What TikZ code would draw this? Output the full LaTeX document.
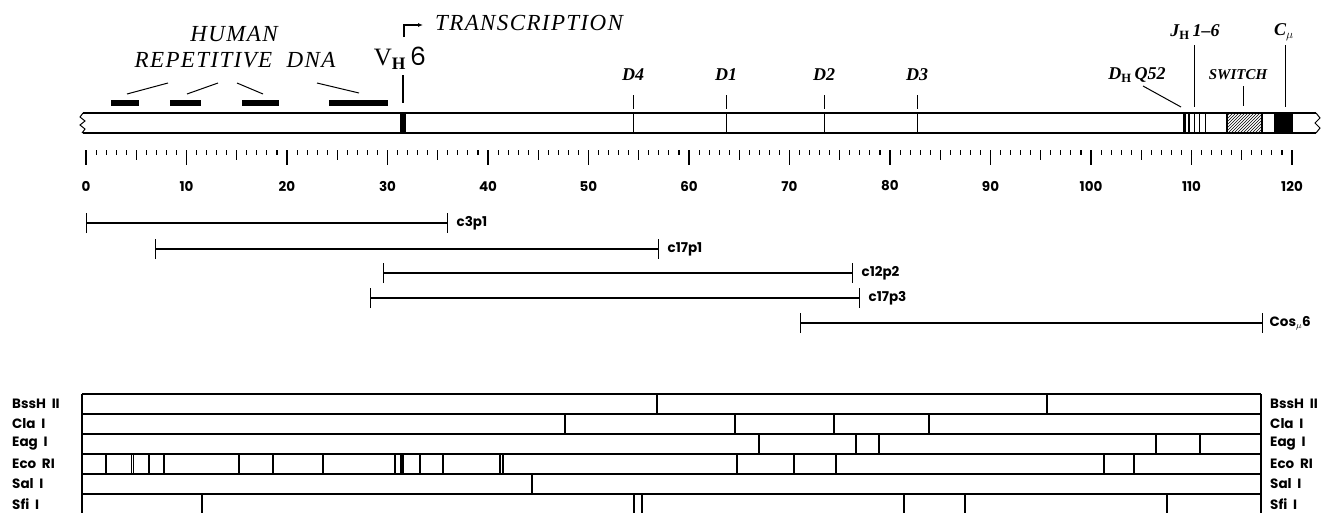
\documentclass[tikz,border=0pt]{standalone}
\usepackage{fontspec}
\setmainfont{Liberation Serif}
\newfontfamily\labelfont[LetterSpace=6]{Liberation Serif}
\newfontfamily\mapsans{Poppins}
\usetikzlibrary{positioning,patterns,arrows.meta}

\begin{document}
\begin{tikzpicture}[
x=1pt, y=-1pt,
every node/.style={inner sep=0pt},
bigitalic/.style={font=\labelfont\itshape\fontsize{23}{23}\selectfont},
dlabel/.style={font=\bfseries\itshape\fontsize{18}{18}\selectfont},
smalllabel/.style={font=\bfseries\itshape\fontsize{15}{15}\selectfont},
sanslabel/.style={font=\mapsans\bfseries\fontsize{13.5}{13.5}\selectfont},
clone/.style={line width=1.2pt, {Bar[width=20pt]}-{Bar[width=20pt]}},
rptbar/.style={line width=6pt},
mapline/.style={line width=1.2pt},
>=latex
]
\useasboundingbox (0,0) rectangle (1330,512);

% chromosome bar
\draw[mapline] (83,113) -- (1316,113);
\draw[mapline] (83,133) -- (1316,133);
\draw[line width=1pt] (83,113) -- (80,117) -- (85,121) -- (80,125) -- (85,129) -- (82,133);
\draw[line width=1pt] (1316,113) -- (1320,118) -- (1315,123) -- (1320,128) -- (1316,133);

\fill (400,113) rectangle (406,133);
\fill (1183,113) rectangle (1186,133);
\fill (1187.5,113) rectangle (1190,133);
\foreach \x in {1194,1199,1205} \draw[line width=1pt] (\x,113) -- (\x,133);
\draw[mapline, pattern=north east lines] (1227,113) rectangle (1262,133);
\fill (1274,113) rectangle (1293,133);

% repetitive DNA
\node[bigitalic] (human) at (234,34) {HUMAN};
\node[bigitalic] (repdna) at (235,60) {REPETITIVE\ \ DNA};
\foreach \a/\b in {111/139,170/201,242/279,329/388}
  \draw[rptbar] (\a,103) -- (\b,103);
\draw[line width=1pt] (127,94) -- (168,83);
\draw[line width=1pt] (187,94) -- (218,83);
\draw[line width=1pt] (237,83) -- (263,94);
\draw[line width=1pt] (317,83) -- (359,93);

% VH6 and transcription start
\node (vh) at (400,58) {\fontsize{25}{25}\selectfont V$_{\mathbf{H}}$\,{\mapsans 6}};
\coordinate (vhtop) at (403,75);
\draw[line width=1.5pt] (vhtop) -- ++(0,28);
\node[bigitalic, anchor=west] (trans) at (435,23) {TRANSCRIPTION};
\coordinate (tstart) at (404,37);
\draw[line width=1.3pt, -{Latex[length=5pt,width=4pt]}] (tstart) |- ([xshift=-12pt, yshift=-2pt]trans.west);

% D segments
\foreach \x/\n in {633/D4,726/D1,824/D2,917/D3}{
  \node[dlabel] (\n) at (\x,75) {\n};
  \draw[line width=1pt] (\x,95) -- (\x,109);
  \draw[line width=1pt] (\x,113) -- (\x,133);
}

% JH, DQ52, switch, C mu
\node[dlabel] (dq52) at (1137,75) {D$_{\mathbf{H}}$\,Q52};
\node[dlabel] (jh) at (1195,32) {J$_{\mathbf{H}}$\,1--6};
\node[smalllabel] (switch) at (1238,75) {SWITCH};
\node[dlabel] (cmu) at (1284,32) {C$_{\mu}$};
\draw[line width=1pt] (1143,86) -- (1181,107);
\draw[line width=1pt] (1194,45) -- (1194,107);
\draw[line width=1pt] (1243,86) -- (1243,106);
\draw[line width=1pt] (1285,45) -- (1285,107);

% kb scale
\foreach \k in {0,...,120}{
  \pgfmathsetmacro\tl{ifthenelse(mod(\k,10)==0,15,ifthenelse(mod(\k,5)==0,10,5))}
  \draw[line width=1.1pt] ({86+10.05*\k},150) -- ++(0,\tl);
}
\foreach \k in {0,10,...,120}
  \node[sanslabel] (kb\k) at ({86+10.05*\k},186) {\k};

% clones
\draw[clone] (86,223) -- (448,223) node[sanslabel, right=8pt] (c3p1) {c3p1};
\draw[clone] (155,249) -- (659,249) node[sanslabel, right=8pt] (c17p1) {c17p1};
\draw[clone] (383,273) -- (853,273) node[sanslabel, right=8pt] (c12p2) {c12p2};
\draw[clone] (370,298) -- (860,298) node[sanslabel, right=8pt] (c17p3) {c17p3};
\draw[clone] (800,323) -- (1263,323) node[sanslabel, right=6pt] (cosmu) {Cos$_{\mu}$6};

% restriction map
\foreach \r in {0,...,5}
  \draw[mapline] (82,{394+20*\r}) -- (1261,{394+20*\r});
\draw[mapline] (82,394) -- (82,514);
\draw[mapline] (1261,394) -- (1261,514);
\foreach \r/\n/\cuts in {
  0/BssH~~II/{657,1047},
  1/Cla~~I/{565,735,834,929},
  2/Eag~~I/{759,856,879,1156,1200},
  3/Eco~~RI/{106,131.5,133.5,149,164,239,273,323,395,401,403,420,443,500,503,737,794,836,1104,1134},
  4/Sal~~I/{532},
  5/Sfi~~I/{202,634,642,904,965,1167}}{
  \node[sanslabel, anchor=west] (left\r) at (12,{404+20*\r}) {\n};
  \node[sanslabel, anchor=west] (right\r) at (1270,{404+20*\r}) {\n};
  \foreach \c in \cuts
    \draw[mapline] (\c,{394+20*\r}) -- ++(0,20);
}

\end{tikzpicture}
\end{document}
